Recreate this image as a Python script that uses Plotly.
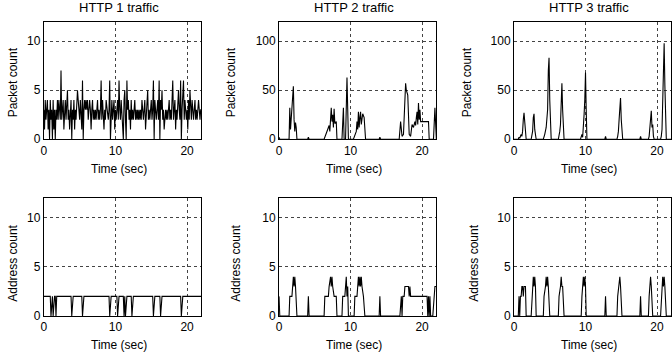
import plotly.graph_objects as go

# ---------------- DATA ----------------
TIME_STEP = 0.1  # seconds between samples of HTTP 1 series

http1_packets = [
    3, 1, 4, 2, 3, 4, 1, 3, 0, 4,
    2, 3, 0, 4, 1, 3, 0, 3, 2, 4,
    2, 4, 3, 2, 7, 2, 3, 4, 1, 3,
    4, 2, 3, 5, 2, 3, 1, 3, 4, 0,
    3, 2, 4, 1, 3, 2, 3, 5, 4, 3,
    2, 4, 3, 1, 6, 0, 3, 4, 3, 4,
    3, 4, 2, 3, 4, 3, 1, 3, 4, 2,
    3, 2, 3, 2, 3, 4, 2, 3, 2, 3,
    6, 2, 4, 3, 1, 3, 2, 4, 3, 2,
    2, 3, 6, 0, 3, 4, 2, 3, 4, 1,
    3, 2, 3, 4, 2, 6, 3, 2, 4, 3,
    2, 0, 4, 5, 2, 0, 6, 3, 4, 2,
    3, 1, 4, 2, 3, 2, 3, 4, 2, 3,
    2, 3, 2, 3, 2, 3, 2, 4, 3, 2,
    3, 4, 1, 3, 4, 5, 2, 3, 2, 3,
    4, 2, 3, 6, 0, 4, 3, 2, 3, 4,
    2, 6, 0, 4, 3, 5, 2, 3, 1, 3,
    3, 2, 3, 2, 3, 4, 2, 3, 2, 4,
    6, 2, 3, 4, 1, 3, 2, 4, 5, 3,
    2, 6, 0, 3, 5, 6, 2, 4, 3, 2,
    3, 1, 4, 2, 5, 3, 2, 4, 3, 2,
    3, 4, 2, 3, 2, 3, 4, 3, 2, 3,
    3,
]

http1_addresses = [
    2, 2, 2, 2, 2, 2, 2, 2, 2, 2,
    0, 2, 2, 0, 2, 2, 2, 0, 2, 2,
    2, 2, 2, 2, 2, 2, 2, 2, 2, 2,
    2, 2, 2, 2, 2, 2, 2, 2, 2, 0,
    2, 2, 2, 2, 2, 2, 2, 2, 2, 2,
    2, 2, 2, 2, 0, 2, 2, 2, 2, 2,
    2, 2, 2, 2, 2, 2, 2, 2, 2, 2,
    2, 2, 2, 2, 2, 2, 2, 2, 2, 2,
    2, 2, 2, 2, 2, 2, 2, 2, 2, 2,
    2, 2, 0, 2, 2, 2, 2, 2, 2, 2,
    2, 2, 2, 0, 2, 2, 2, 2, 2, 2,
    2, 2, 0, 2, 0, 2, 2, 2, 2, 2,
    2, 2, 2, 0, 2, 2, 2, 2, 2, 2,
    2, 2, 2, 2, 2, 2, 2, 2, 2, 2,
    2, 2, 2, 2, 2, 2, 2, 2, 2, 2,
    2, 2, 2, 0, 2, 2, 2, 2, 2, 2,
    2, 2, 2, 0, 2, 2, 2, 2, 2, 2,
    2, 2, 2, 2, 2, 2, 2, 2, 2, 2,
    2, 2, 2, 2, 2, 2, 2, 2, 2, 2,
    2, 2, 0, 2, 2, 2, 2, 2, 2, 2,
    2, 2, 2, 2, 2, 2, 2, 2, 2, 2,
    2, 2, 2, 2, 2, 2, 2, 2, 2, 2,
    2,
]

http2_packet_t = [0, 0.1, 1.4, 1.5, 1.6, 1.8, 2.0, 2.1, 2.2, 2.3, 2.4, 2.5,
                  4.0, 4.1, 4.2, 6.3, 6.6, 6.8, 7.0, 7.1, 7.3, 7.4, 7.5, 7.6, 7.7, 7.8, 8.0, 8.1,
                  8.8, 9.0, 9.1, 9.3, 9.5, 9.7,
                  10.4, 10.6, 10.8, 10.9, 11.0, 11.1, 11.2, 11.3, 11.4, 11.5, 11.7, 11.9, 12.1,
                  14.0, 14.1, 14.2, 16.8, 17.0, 17.2, 17.4, 17.7, 17.8, 18.0, 18.2, 18.4, 18.6,
                  18.8, 19.0, 19.1, 19.2, 19.3, 19.4, 19.5, 19.6, 19.7, 19.8, 20.9, 21.0,
                  21.6, 21.8, 21.9, 22.0]
http2_packet_v = [2, 0, 0, 32, 10, 30, 54, 20, 8, 17, 12, 0,
                  0, 2, 0, 0, 5, 10, 14, 8, 32, 18, 25, 12, 31, 16, 18, 0,
                  0, 32, 0, 0, 63, 0,
                  0, 5, 8, 18, 10, 28, 12, 22, 28, 15, 26, 22, 0,
                  0, 2, 0, 0, 18, 3, 5, 57, 50, 45, 5, 3, 15,
                  12, 18, 14, 22, 28, 15, 37, 20, 30, 18, 18, 0,
                  0, 32, 0, 0]

http2_addr_t = [0, 0.1, 1.4, 1.5, 1.8, 1.9, 2.0, 2.1, 2.2, 2.3, 2.4, 2.5,
                4.0, 4.1, 4.2, 6.3, 6.4, 6.9, 7.0, 7.2, 7.3, 7.4, 7.5, 7.7, 8.0, 8.1,
                8.8, 8.9, 9.2, 9.3, 9.4, 9.5, 9.6, 9.7,
                10.5, 10.6, 10.9, 11.0, 11.1, 11.2, 11.3, 11.4, 11.5, 11.6, 11.8, 12.0,
                14.0, 14.1, 14.2, 16.9, 17.0, 17.1, 17.2, 17.3, 17.5, 17.6, 18.1, 18.2,
                18.3, 18.4, 20.7, 20.8, 20.9, 21.0, 21.1, 21.2, 21.5, 21.8, 22.0]
http2_addr_v = [2, 0, 0, 2, 2, 3, 4, 3, 4, 3, 2, 0,
                0, 2, 0, 0, 2, 2, 3, 4, 3, 4, 3, 2, 2, 0,
                0, 2, 2, 3, 4, 2, 3, 0,
                0, 2, 2, 3, 4, 3, 4, 3, 4, 3, 2, 0,
                0, 2, 0, 0, 2, 2, 0, 2, 2, 3, 3, 2,
                3, 2, 2, 0, 2, 0, 2, 0, 0, 3, 3]

http3_packet_t = [0, 0.6, 0.7, 0.8, 0.9, 1.0, 1.1, 1.2, 1.3, 1.4, 1.5, 1.6, 1.7,
                  2.4, 2.5, 2.6, 2.7, 2.8, 2.9, 3.0, 3.1,
                  4.1, 4.2, 4.3, 4.5, 4.6, 4.7, 4.8, 4.9, 5.0, 5.1, 5.2,
                  6.2, 6.3, 6.4, 6.5, 6.6, 6.7, 6.8, 6.9, 7.0,
                  9.3, 9.4, 9.5, 9.6, 9.7, 9.8, 9.9, 10.0, 10.1, 10.2,
                  12.7, 12.8, 12.9,
                  14.4, 14.5, 14.6, 14.7, 14.8, 14.9, 15.0, 15.1, 15.2,
                  17.6, 17.7, 17.8,
                  18.8, 18.9, 19.0, 19.1, 19.2, 19.3, 19.4, 19.5, 19.6,
                  20.5, 20.6, 20.7, 20.8, 20.9, 21.0, 21.1, 21.2, 21.3, 22.0]
http3_packet_v = [0, 0, 2, 1, 3, 5, 3, 8, 20, 27, 18, 5, 0,
                  0, 3, 8, 22, 26, 10, 2, 0,
                  0, 2, 5, 12, 25, 30, 70, 83, 40, 5, 0,
                  0, 3, 8, 15, 35, 57, 30, 8, 0,
                  0, 3, 5, 2, 10, 25, 40, 68, 30, 0,
                  0, 3, 0,
                  0, 3, 8, 20, 35, 42, 20, 5, 0,
                  0, 3, 0,
                  0, 3, 10, 20, 29, 12, 15, 3, 0,
                  0, 3, 10, 35, 70, 98, 55, 10, 0, 0]

http3_addr_t = [0, 0.6, 0.7, 0.8, 0.9, 1.0, 1.1, 1.2, 1.3, 1.4, 1.6, 1.7,
                2.4, 2.5, 2.6, 2.7, 2.8, 2.9, 3.0, 3.1,
                4.1, 4.2, 4.4, 4.5, 4.6, 4.7, 4.8, 5.0,
                6.2, 6.3, 6.5, 6.6, 6.7, 6.8, 7.0,
                9.4, 9.5, 9.6, 9.7, 9.8, 9.9, 10.0, 10.1,
                12.7, 12.8, 12.9,
                14.4, 14.5, 14.7, 14.8, 14.9, 15.1,
                17.6, 17.7, 17.8,
                18.8, 18.9, 19.0, 19.1, 19.2, 19.3, 19.4,
                20.5, 20.6, 20.7, 20.8, 20.9, 21.0, 21.1, 21.2, 21.3, 22.0]
http3_addr_v = [0, 0, 2, 0, 2, 2, 3, 3, 2, 3, 3, 0,
                0, 2, 3, 4, 3, 4, 3, 0,
                0, 2, 3, 4, 3, 4, 3, 0,
                0, 2, 3, 4, 3, 3, 0,
                0, 2, 3, 4, 3, 4, 3, 0,
                0, 2, 0,
                0, 2, 3, 4, 3, 0,
                0, 2, 0,
                0, 2, 3, 4, 3, 2, 0,
                0, 2, 3, 4, 3, 4, 3, 2, 0, 0]

panel_titles = ["HTTP 1 traffic", "HTTP 2 traffic", "HTTP 3 traffic"]
x_title = "Time (sec)"
y_titles = ["Packet count", "Address count"]
x_ticks = [0, 10, 20]
packet_ticks = [[0, 5, 10], [0, 50, 100], [0, 50, 100]]
addr_ticks = [0, 5, 10]

# ---------------- FIGURE ----------------
W, H = 672, 361
FONT = "Liberation Sans, Arial, Helvetica, sans-serif"

http1_t = [round(i * TIME_STEP, 1) for i in range(len(http1_packets))]

series = [
    (http1_t, http1_packets), (http2_packet_t, http2_packet_v), (http3_packet_t, http3_packet_v),
    (http1_t, http1_addresses), (http2_addr_t, http2_addr_v), (http3_addr_t, http3_addr_v),
]

# pixel layout of the panels
col_px = [(41, 199.3), (277.3, 435.3), (513.3, 671.3)]
row_px = [(22, 142), (202, 322.3)]

fig = go.Figure()
layout = dict(
    width=W, height=H, margin=dict(l=0, r=0, t=0, b=0),
    paper_bgcolor="white", plot_bgcolor="white",
    showlegend=False, font=dict(family=FONT, size=12, color="black"),
)
annotations = []

for idx, (tx, vy) in enumerate(series):
    r, c = divmod(idx, 3)
    n = idx + 1
    xa = "x" if n == 1 else f"x{n}"
    ya = "y" if n == 1 else f"y{n}"
    fig.add_trace(go.Scatter(x=tx, y=vy, mode="lines",
                             line=dict(color="black", width=1.1),
                             xaxis=xa, yaxis=ya, hoverinfo="skip"))
    x0, x1 = col_px[c]
    y0, y1 = row_px[r]
    dom_x = [x0 / W, min(x1 / W, 1)]
    dom_y = [1 - y1 / H, 1 - y0 / H]
    if r == 0:
        yt = packet_ticks[c]
        yr = [0, 12] if c == 0 else [0, 120]
    else:
        yt = addr_ticks
        yr = [0, 12]
    axis_common = dict(showline=True, mirror=True, linecolor="black", linewidth=1,
                       showgrid=True, gridcolor="#444444", griddash="dot", gridwidth=1,
                       zeroline=False, ticks="", tickfont=dict(size=12, family=FONT))
    layout["xaxis" + ("" if n == 1 else str(n))] = dict(
        domain=dom_x, range=[0, 22], tickvals=x_ticks, anchor=ya, **axis_common)
    layout["yaxis" + ("" if n == 1 else str(n))] = dict(
        domain=dom_y, range=yr, tickvals=yt, anchor=xa, **axis_common)

    cx = (x0 + x1) / 2 - 4
    # x axis title
    annotations.append(dict(text=x_title, x=cx / W, y=1 - (y1 + 30) / H,
                            xref="paper", yref="paper", showarrow=False,
                            xanchor="center", yanchor="middle",
                            font=dict(size=12, family=FONT)))
    # y axis title
    ytx = [[10, 229, 466], [10, 234, 473]][r][c]
    yty = [84, 268][r]
    annotations.append(dict(text=y_titles[r], x=ytx / W, y=1 - yty / H,
                            xref="paper", yref="paper", showarrow=False,
                            xanchor="center", yanchor="middle", textangle=-90,
                            font=dict(size=12, family=FONT)))
    if r == 0:
        annotations.append(dict(text=panel_titles[c], x=cx / W, y=1 - 8 / H,
                                xref="paper", yref="paper", showarrow=False,
                                xanchor="center", yanchor="middle",
                                font=dict(size=13, family=FONT)))

layout["annotations"] = annotations
fig.update_layout(**layout)
fig.write_html("out.html",
               config={"displayModeBar": False, "staticPlot": True},
               post_script="document.body.style.margin='0';document.body.style.padding='0';")
